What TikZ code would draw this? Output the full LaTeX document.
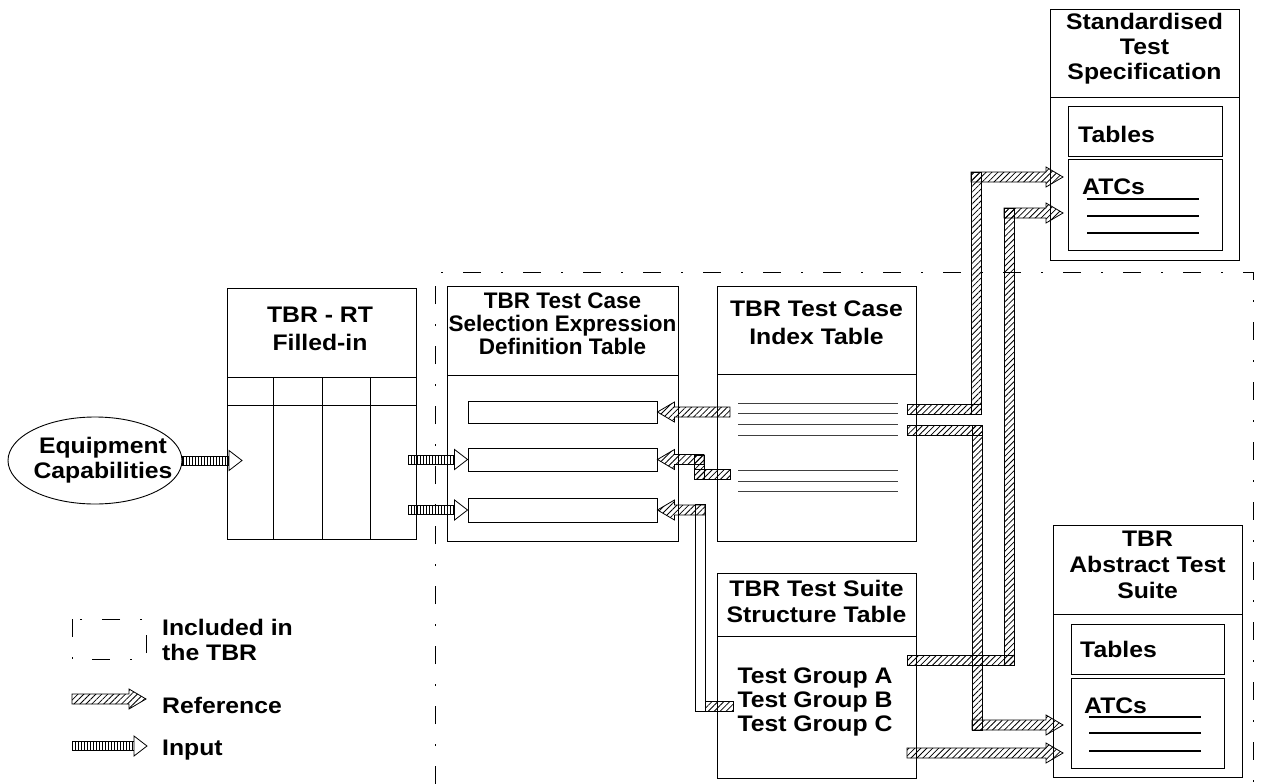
\documentclass[tikz,border=0pt]{standalone}
\usepackage{fontspec}
\setmainfont{Liberation Sans}[FakeStretch=1.1]
\newfontfamily\selfont{Liberation Sans}
\usetikzlibrary{patterns.meta,calc,shapes.geometric}

\newcommand\refright[2]{\path[rf] let \p1=(#1),\p2=(#2) in
  (\x1,\y2+5pt) -- (\x2-17pt,\y2+5pt) -- (\x2-17pt,\y2+10pt) -- (\p2)
  -- (\x2-17pt,\y2-10pt) -- (\x2-17pt,\y2-5pt) -- (\x1,\y2-5pt) -- cycle;}
\newcommand\refleft[2]{\path[rf] let \p1=(#1),\p2=(#2) in
  (\x1,\y2+5pt) -- (\x2+17pt,\y2+5pt) -- (\x2+17pt,\y2+10pt) -- (\p2)
  -- (\x2+17pt,\y2-10pt) -- (\x2+17pt,\y2-5pt) -- (\x1,\y2-5pt) -- cycle;}
\newcommand\inright[2]{\path[ip] let \p1=(#1),\p2=(#2) in
  (\x1,\y2+4.5pt) rectangle (\x2-13pt,\y2-4.5pt);
  \path[ih] let \p2=(#2) in (\x2-13pt,\y2+10pt) -- (\p2) -- (\x2-13pt,\y2-10pt) -- cycle;}
\newcommand\hband[2]{\path[rf] ([yshift=5pt]#1) rectangle ([yshift=-5pt]#2);}
\newcommand\vband[2]{\path[rf] ([xshift=-5pt]#1) rectangle ([xshift=5pt]#2);}

\begin{document}
\begin{tikzpicture}[x=1pt,y=-1pt,
  bx/.style={draw,line width=0.9pt,inner sep=0pt},
  hd/.style={font=\fontsize{22.5}{#1}\selectfont\bfseries,align=center,inner sep=0pt},
  hd/.default=24,
  tx/.style={font=\fontsize{22.5}{24}\selectfont\bfseries,inner sep=0pt},
  rf/.style={draw,line width=0.8pt,pattern={Lines[angle=45,distance=4.2pt,line width=0.8pt]}},
  ip/.style={draw,line width=0.8pt,pattern={Lines[angle=90,distance=3pt,line width=0.7pt]}},
  ih/.style={draw,line width=0.8pt,fill=white},
  tbr/.style={line width=0.9pt,dash pattern=on 18pt off 20pt on 2pt off 20pt},
  ln/.style={line width=0.9pt,black!75},
  atcln/.style={line width=1.8pt}]
 \useasboundingbox (0,0) rectangle (1261,784);
 \draw[tbr] (435,784) -- (435,272) -- (1253,272) -- (1253,784);

 \node[draw,ellipse,line width=0.9pt,minimum width=174pt,minimum height=87pt] (eq) at (95,460.5) {};
 \node[hd=25] (eqt) at (103,460) {Equipment\\Capabilities};

 \node[bx,minimum width=189pt,minimum height=251pt] (rt) at (321.5,413.5) {};
 \draw[line width=0.9pt] (227,377) -- (416,377) (227,405) -- (416,405);
 \foreach \x in {273,322,370} \draw[line width=0.9pt] (\x,377) -- (\x,539);
 \node[hd=28] (rtt) at (320,329) {TBR - RT\\Filled-in};

 \node[bx,minimum width=231pt,minimum height=255pt] (sel) at (562.5,413.5) {};
 \draw[line width=0.9pt] (447,375) -- (678,375);
 \node[hd=23,font=\selfont\fontsize{22.5}{23}\selectfont\bfseries] (selt) at (562.5,324)
   {TBR Test Case\\Selection Expression\\Definition Table};
 \foreach \n/\y/\h in {r1/412/22,r2/459.5/23,r3/510/24}
   \node[bx,minimum width=189pt,minimum height=\h] (\n) at (562.5,\y) {};

 \node[bx,minimum width=199pt,minimum height=255pt] (idx) at (816.5,413.5) {};
 \draw[line width=0.9pt] (717,374) -- (916,374);
 \node[hd=28] (idxt) at (816.5,323) {TBR Test Case\\Index Table};
 \foreach \y in {403,413,424,435,470,481,491} \draw[ln] (738,\y) -- (898,\y);

 \node[bx,minimum width=199pt,minimum height=205pt] (ste) at (816.5,675.5) {};
 \draw[line width=0.9pt] (717,636) -- (916,636);
 \node[hd=26] (stet) at (816.5,601) {TBR Test Suite\\Structure Table};
 \node[hd=24] (grp) at (815,701.5) {Test Group A\\Test Group B\\Test Group C};

 \node[bx,minimum width=189pt,minimum height=251pt] (std) at (1144.5,134.5) {};
 \draw[line width=0.9pt] (1050,97) -- (1239,97);
 \node[hd=25] (stdt) at (1144.5,48.5) {Standardised\\Test\\Specification};
 \node[bx,minimum width=154pt,minimum height=50pt] (tab1) at (1145,131) {};
 \node[bx,minimum width=154pt,minimum height=91pt] (atc1) at (1145,204.5) {};
 \node[tx,anchor=base west] (tab1t) at (1078,142) {Tables};
 \node[tx,anchor=base west] (atc1t) at (1082,194) {ATCs};
 \foreach \y in {199,216,233} \draw[atcln] (1087,\y) -- (1199,\y);

 \node[bx,minimum width=189pt,minimum height=252pt] (ats) at (1147.5,651) {};
 \draw[line width=0.9pt] (1053,614) -- (1242,614);
 \node[hd=26] (atst) at (1147.5,565) {TBR\\Abstract Test\\Suite};
 \node[bx,minimum width=153pt,minimum height=50pt] (tab2) at (1147.5,649) {};
 \node[bx,minimum width=153pt,minimum height=90pt] (atc2) at (1147.5,723) {};
 \node[tx,anchor=base west] (tab2t) at (1080,657) {Tables};
 \node[tx,anchor=base west] (atc2t) at (1084,713) {ATCs};
 \foreach \y in {717,733,751} \draw[atcln] (1089,\y) -- (1201,\y);

 \coordinate (i1) at (242,460.5);
 \coordinate (i2a) at (408,460);
 \coordinate (i3a) at (408,511);
 \inright{eq.east}{i1}
 \inright{i2a}{r2.west}
 \inright{i3a}{r3.west}

 \coordinate (r1t) at (730,412);
 \refleft{r1t}{r1.east}
 \coordinate (r2a) at (730,474); \coordinate (r2b) at (694,474);
 \coordinate (r2c) at (699,479); \coordinate (r2d) at (699,455);
 \coordinate (r2e) at (704,460);
 \hband{r2a}{r2b} \vband{r2c}{r2d} \refleft{r2e}{r2.east}
 \coordinate (r3a) at (733,706); \coordinate (r3b) at (705,706);
 \coordinate (r3c) at (700,711); \coordinate (r3d) at (700,504);
 \coordinate (r3e) at (705,510);
 \hband{r3a}{r3b}
 \path[ih] ([xshift=-5pt]r3c) rectangle ([xshift=5pt]r3d);
 \refleft{r3e}{r3.east}

 \coordinate (u1) at (907,409); \coordinate (u2) at (981,409);
 \coordinate (u3) at (976,414); \coordinate (u4) at (976,172);
 \coordinate (u5) at (971,177); \coordinate (u6) at (1063,177);
 \hband{u1}{u2} \vband{u3}{u4} \refright{u5}{u6}
 \coordinate (w1) at (907,660); \coordinate (w2) at (1014,660);
 \coordinate (w3) at (1009,665); \coordinate (w4) at (1009,208);
 \coordinate (w5) at (1004,213); \coordinate (w6) at (1063,213);
 \hband{w1}{w2} \vband{w3}{w4} \refright{w5}{w6}
 \coordinate (v1) at (907,430); \coordinate (v2) at (982,430);
 \coordinate (v3) at (977,425); \coordinate (v4) at (977,730);
 \coordinate (v5) at (972,725); \coordinate (v6) at (1063,725);
 \hband{v1}{v2} \vband{v3}{v4} \refright{v5}{v6}
 \coordinate (z1) at (907,753); \coordinate (z2) at (1063,753);
 \refright{z1}{z2}

 \draw[tbr] (72,619) rectangle (146,659);
 \node[hd=25,align=left,anchor=west] (lg1) at (162,640) {Included in\\the TBR};
 \coordinate (lr0) at (72,699); \coordinate (lr1) at (146,699);
 \refright{lr0}{lr1}
 \node[tx,anchor=base west] (lg2) at (162,713) {Reference};
 \coordinate (li0) at (72,746); \coordinate (li1) at (147,746);
 \inright{li0}{li1}
 \node[tx,anchor=base west] (lg3) at (162,755) {Input};
\end{tikzpicture}
\end{document}
